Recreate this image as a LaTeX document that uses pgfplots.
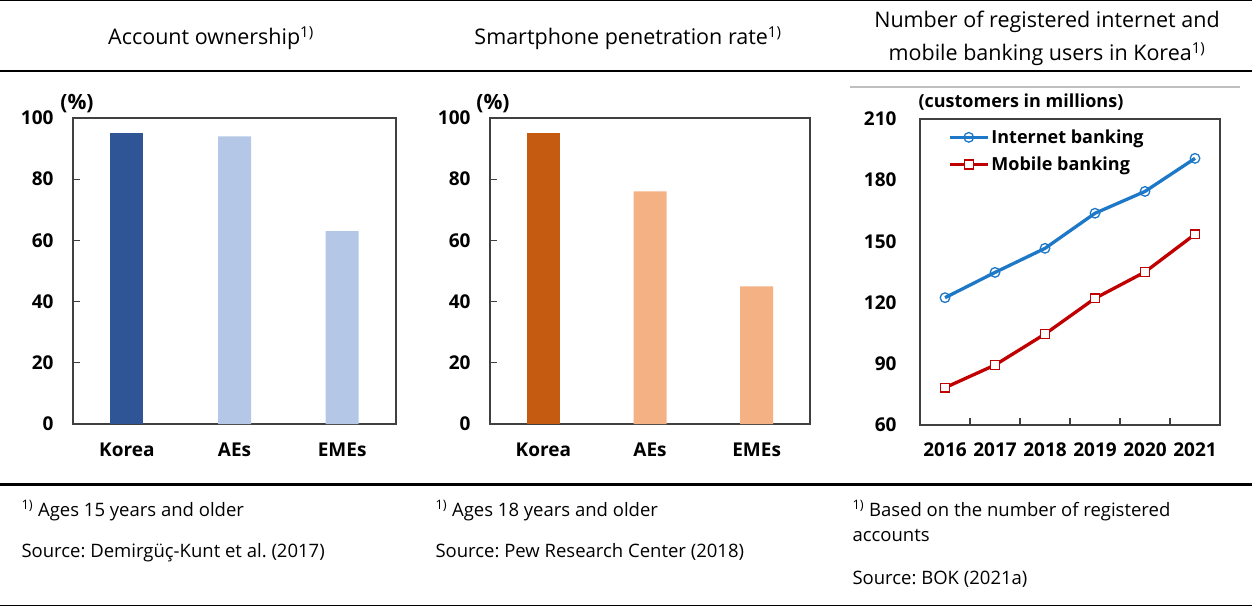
\documentclass[border=0pt]{standalone}
\usepackage{fontspec}
\setmainfont{Open Sans}
\usepackage{pgfplots}
\pgfplotsset{compat=1.18}
\definecolor{kblue}{RGB}{47,85,151}
\definecolor{lblue}{RGB}{180,199,231}
\definecolor{korange}{RGB}{197,90,17}
\definecolor{lorange}{RGB}{244,177,131}
\definecolor{ibl}{RGB}{30,120,200}
\definecolor{mred}{RGB}{192,0,0}
\definecolor{axgray}{RGB}{64,64,64}
\newcommand{\hd}{\fontsize{21.5}{25}\selectfont}
\newcommand{\fn}{\fontsize{18.5}{22}\selectfont}
\newcommand{\fnm}{\textsuperscript{1)}}
\frenchspacing
\pgfplotsset{
 panel/.style={scale only axis, axis line style={draw=axgray, line width=1.5pt},
   tick style={draw=axgray, line width=1.2pt}, tick align=inside, major tick length=7pt,
   tick label style={font=\fontsize{19}{19}\selectfont\bfseries},
   /pgf/number format/assume math mode=true, clip=false, xtick pos=bottom, ytick pos=left},
 barpanel/.style={panel, width=323pt, height=306pt, xmin=-0.5, xmax=2.5, ymin=0, ymax=100,
   ytick={0,20,...,100}, xtick={0,1,2}, xticklabels={Korea,AEs,EMEs},
   x tick style={draw=none}, yticklabel style={xshift=-16pt}, xticklabel style={yshift=-15pt}},
 mybar/.style={ybar, bar width=33pt, bar shift=0pt, draw=none, fill=#1}
}
\begin{document}
\frenchspacing
\begin{tikzpicture}
\useasboundingbox (0pt,0pt) rectangle (1252pt,-607pt);
% rules
\draw[line width=1.2pt] (0pt,-0.6pt) -- (1252pt,-0.6pt);
\draw[line width=2.2pt] (0pt,-71pt) -- (1252pt,-71pt);
\draw[line width=2.5pt] (0pt,-484.7pt) -- (1252pt,-484.7pt);
\draw[line width=1.5pt] (0pt,-605.3pt) -- (1252pt,-605.3pt);
\draw[line width=1.2pt, black!25] (850pt,-87pt) -- (1240pt,-87pt);
% headers
\node[font=\hd] at (211pt,-38pt) {Account ownership\fnm};
\node[font=\hd] at (628pt,-38pt) {Smartphone penetration rate\fnm};
\node[font=\hd, align=center] at (1047pt,-38.5pt) {Number of registered internet and\\[8pt]mobile banking users in Korea\fnm};
% footnotes
\node[font=\fn, anchor=base west] at (18pt,-516pt) {\fnm\ Ages 15 years and older};
\node[font=\fn, anchor=base west] at (18pt,-557pt) {Source: Demirgüç-Kunt et al. (2017)};
\node[font=\fn, anchor=base west] at (432pt,-516pt) {\fnm\ Ages 18 years and older};
\node[font=\fn, anchor=base west] at (432pt,-557pt) {Source: Pew Research Center (2018)};
\node[font=\fn, anchor=base west] at (849pt,-516pt) {\fnm\ Based on the number of registered};
\node[font=\fn, anchor=base west] at (849pt,-541pt) {accounts};
\node[font=\fn, anchor=base west] at (849pt,-584pt) {Source: BOK (2021a)};
% unit labels
\node[font=\fontsize{21}{21}\selectfont\bfseries] at (77pt,-104pt) {(\%)};
\node[font=\fontsize{21}{21}\selectfont\bfseries] at (493pt,-104pt) {(\%)};
\node[font=\fontsize{18}{18}\selectfont\bfseries, anchor=west] at (915pt,-102pt) {(customers in millions)};

\begin{axis}[barpanel, at={(73pt,-424pt)}, anchor=south west]
\addplot[mybar=kblue] coordinates {(0,95)};
\addplot[mybar=lblue] coordinates {(1,94) (2,63)};
\end{axis}

\begin{axis}[barpanel, at={(490pt,-424pt)}, anchor=south west, width=320pt]
\addplot[mybar=korange] coordinates {(0,95)};
\addplot[mybar=lorange] coordinates {(1,76) (2,45)};
\end{axis}

\begin{axis}[panel, at={(920pt,-425pt)}, anchor=south west, width=300pt, height=306pt,
  xmin=-0.5, xmax=5.5, ymin=60, ymax=210, ytick={60,90,...,210}, y tick style={draw=none},
  xtick={0,1,2,3,4,5}, xticklabels={2016,2017,2018,2019,2020,2021},
  major x tick style={draw=none}, minor xtick={0.5,1.5,2.5,3.5,4.5}, minor tick length=7pt,
  yticklabel style={xshift=-20pt}, xticklabel style={yshift=-14pt},
  legend style={draw=none, fill=none, at={(axis description cs:0.093,0.972)}, anchor=north west,
    inner sep=0pt, row sep=8pt, font=\fontsize{18}{18}\selectfont\bfseries},
  legend cell align=left,
  legend image code/.code={\draw[mark repeat=2,mark phase=2] plot coordinates {(0pt,0pt) (19pt,0pt) (38pt,0pt)};}]
\addplot[ibl, line width=3.3pt, mark=o, mark size=4.8pt, mark options={fill=white, line width=1.3pt}]
  coordinates {(0,122.4) (1,134.8) (2,146.6) (3,163.8) (4,174.5) (5,190.7)};
\addlegendentry{Internet banking}
\addplot[mred, line width=3.3pt, mark=square*, mark size=4.4pt, mark options={fill=white, line width=1.3pt}]
  coordinates {(0,78.3) (1,89.4) (2,104.6) (3,122.1) (4,135.0) (5,153.5)};
\addlegendentry{Mobile banking}
\end{axis}
\end{tikzpicture}
\end{document}
